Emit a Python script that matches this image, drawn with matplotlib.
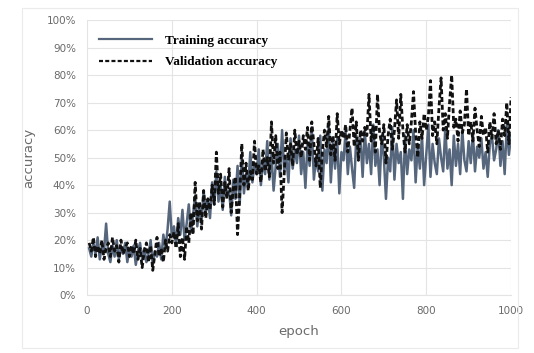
import matplotlib
matplotlib.use('Agg')
import matplotlib.pyplot as plt
import numpy as np
from matplotlib.patches import Rectangle
from matplotlib.ticker import PercentFormatter

# accuracy logged every 5 epochs (percent)
epochs = list(range(5, 1001, 5))

train_acc = [
	17, 14, 19, 15, 21, 13, 18, 16, 26, 15, 12, 18, 14, 20, 13, 17, 15, 19, 12, 17,
	14, 18, 11, 16, 19, 13, 17, 12, 15, 20, 11, 16, 14, 19, 13, 22, 17, 24, 34, 21,
	25, 18, 28, 22, 31, 20, 26, 33, 23, 29, 36, 25, 32, 27, 38, 30, 35, 28, 41, 33,
	45, 34, 40, 31, 43, 36, 38, 29, 42, 35, 47, 33, 50, 37, 44, 39, 52, 41, 48, 45,
	53, 40, 49, 44, 56, 42, 51, 38, 47, 55, 43, 60, 45, 50, 41, 57, 46, 53, 48, 58,
	44, 52, 39, 55, 47, 61, 42, 50, 45, 58, 38, 53, 48, 62, 41, 55, 46, 57, 37, 52,
	49, 60, 44, 54, 46, 39, 58, 51, 57, 43, 60, 48, 55, 44, 62, 47, 53, 40, 58, 50,
	35, 50, 45, 61, 42, 55, 48, 52, 35, 58, 44, 53, 49, 60, 41, 55, 46, 58, 40, 51,
	62, 43, 55, 48, 44, 57, 50, 45, 61, 46, 53, 40, 58, 47, 55, 44, 60, 49, 45, 56,
	48, 59, 45, 54, 50, 57, 46, 52, 43, 55, 58, 49, 53, 60, 47, 56, 44, 62, 51, 58,
]

val_acc = [
	19, 16, 21, 14, 18, 15, 20, 13, 17, 19, 14, 21, 16, 18, 12, 20, 15, 17, 19, 14,
	18, 15, 20, 13, 17, 10, 16, 19, 12, 18, 9, 15, 21, 14, 17, 12, 20, 16, 22, 19,
	23, 17, 26, 14, 21, 13, 25, 19, 30, 22, 41, 27, 34, 24, 38, 28, 35, 31, 40, 33,
	52, 37, 44, 32, 41, 35, 46, 30, 39, 43, 22, 36, 55, 40, 48, 38, 45, 42, 56, 44,
	47, 41, 53, 45, 50, 43, 63, 48, 58, 46, 52, 30, 44, 59, 49, 55, 47, 60, 51, 56,
	50, 58, 53, 61, 49, 63, 55, 47, 57, 39, 52, 60, 54, 65, 51, 58, 49, 66, 55, 60,
	57, 62, 52, 60, 68, 54, 63, 49, 60, 56, 61, 58, 73, 56, 62, 52, 73, 59, 55, 62,
	48, 58, 64, 53, 60, 71, 57, 73, 60, 52, 62, 55, 63, 74, 59, 50, 63, 57, 66, 60,
	65, 78, 58, 63, 55, 68, 79, 60, 66, 57, 70, 80, 61, 64, 56, 67, 59, 62, 75, 58,
	63, 56, 68, 60, 54, 65, 58, 61, 52, 63, 57, 66, 55, 60, 53, 64, 58, 70, 55, 72,
]

x_ticks = [0, 200, 400, 600, 800, 1000]
y_ticks = list(range(0, 101, 10))

grid_color = '#e4e4e4'
text_color = '#6a6a6a'

fig = plt.figure(figsize=(5.34, 3.53), dpi=100)
ax = fig.add_axes([0.163, 0.164, 0.794, 0.779])

# light frame round the whole chart area
fig.patches.append(Rectangle((0.042, 0.014), 0.928, 0.963, transform=fig.transFigure,
							 fill=False, edgecolor='#ebebeb', lw=0.8))

ax.plot(epochs, train_acc, color='#56667c', lw=1.8, label='Training accuracy', zorder=3)
ax.plot(epochs, val_acc, color='#111111', lw=2.0, ls=(0, (1.8, 1.0)), label='Validation accuracy', zorder=4)

ax.set_xlim(0, 1000)
ax.set_ylim(0, 100)
ax.set_xticks(x_ticks)
ax.set_yticks(y_ticks)
ax.yaxis.set_major_formatter(PercentFormatter(decimals=0))
ax.grid(True, color=grid_color, lw=0.8)
ax.set_axisbelow(True)
for side in ['top', 'right', 'left']:
	ax.spines[side].set_visible(False)
ax.spines['bottom'].set_color(grid_color)
ax.tick_params(length=0, labelsize=7.5, labelcolor=text_color, pad=8)

ax.set_xlabel('epoch', fontsize=9.5, color=text_color, labelpad=6)
ax.set_ylabel('accuracy', fontsize=9.5, color=text_color, labelpad=8)

leg = ax.legend(loc='upper left', bbox_to_anchor=(0.0, 0.99), frameon=False,
				prop={'family': 'Liberation Serif', 'weight': 'bold', 'size': 9.5},
				handlelength=4.0, handletextpad=1.0, labelspacing=0.7)
for line in leg.get_lines():
	line.set_linewidth(1.6)

fig.savefig('out.png', dpi=100, facecolor='white')
